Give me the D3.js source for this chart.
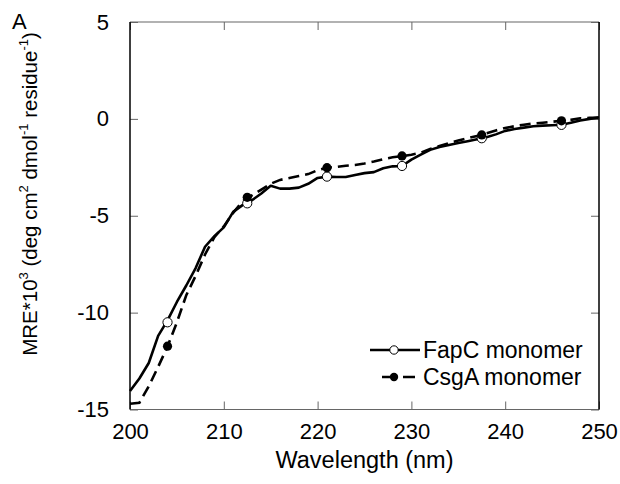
<!DOCTYPE html>
<html><head><meta charset="utf-8">
<script src="https://cdn.jsdelivr.net/npm/d3@7"></script>
<style>body{margin:0;background:#fff}svg{display:block}text{font-family:"Liberation Sans",Arial,sans-serif;fill:#000}</style>
</head><body><svg id="c" width="620" height="484"></svg>
<script>
const wavelengths = d3.range(200, 251, 1);
const fapc = [-14.05,-13.4,-12.6,-11.2,-10.4,-9.45,-8.6,-7.7,-6.6,-6.05,-5.6,-4.8,-4.45,-4.2,-3.85,-3.45,-3.6,-3.6,-3.55,-3.35,-3.05,-2.98,-3.0,-3.0,-2.9,-2.8,-2.75,-2.55,-2.45,-2.43,-2.1,-1.85,-1.6,-1.45,-1.35,-1.25,-1.15,-1.05,-0.95,-0.8,-0.62,-0.52,-0.45,-0.38,-0.35,-0.33,-0.3,-0.2,-0.08,0.0,0.08];
const csga = [-14.7,-14.65,-13.8,-12.8,-11.75,-10.5,-9.1,-8.1,-7.0,-6.1,-5.55,-4.85,-4.25,-3.95,-3.65,-3.35,-3.15,-3.05,-2.95,-2.85,-2.65,-2.52,-2.48,-2.42,-2.38,-2.3,-2.2,-2.08,-1.98,-1.92,-1.85,-1.75,-1.55,-1.4,-1.25,-1.12,-1.0,-0.88,-0.75,-0.6,-0.47,-0.38,-0.3,-0.24,-0.2,-0.15,-0.1,-0.05,0.03,0.05,0.05];
const markerWl = [204,212.5,221,229,237.5,246];
const fapcMarkers = [-10.5,-4.36,-2.98,-2.43,-1.0,-0.31];
const csgaMarkers = [-11.73,-4.05,-2.52,-1.91,-0.83,-0.1];
const xTicks = [200,210,220,230,240,250];
const yTicks = [-15,-10,-5,0,5];
const seriesNames = ["FapC monomer","CsgA monomer"];

const svg = d3.select("#c");
const L=130,R=599,T=22,B=409.5;
const x = d3.scaleLinear().domain([200,250]).range([L,R]);
const y = d3.scaleLinear().domain([-15,5]).range([B,T]);
const FS = 22;

const axCol = "#666";
svg.append("line").attr("x1",L).attr("x2",R).attr("y1",T).attr("y2",T).attr("stroke",axCol).attr("stroke-width",1.2);
svg.append("line").attr("x1",L).attr("x2",R).attr("y1",B).attr("y2",B).attr("stroke",axCol).attr("stroke-width",1.2);

const xb = svg.append("g").attr("transform",`translate(0,${B})`)
  .call(d3.axisBottom(x).tickValues(xTicks).tickSize(-8).tickPadding(14).tickFormat(d3.format("d")));
xb.select(".domain").remove();
xb.selectAll("line").attr("stroke",axCol);
xb.selectAll("text").attr("font-size",FS).attr("font-family","Liberation Sans, Arial, sans-serif").attr("fill","#000");
const xt = svg.append("g").attr("transform",`translate(0,${T})`)
  .call(d3.axisTop(x).tickValues(xTicks).tickSize(-8).tickFormat(""));
xt.select(".domain").remove();
xt.selectAll("line").attr("stroke",axCol);
const yl = svg.append("g").attr("transform",`translate(${L},0)`)
  .call(d3.axisLeft(y).tickValues(yTicks).tickSize(-8).tickPadding(21).tickFormat(d3.format("d")));
yl.select(".domain").remove();
yl.selectAll("line").attr("stroke",axCol);
yl.selectAll("text").attr("font-size",FS).attr("font-family","Liberation Sans, Arial, sans-serif").attr("fill","#000").text(d=>d<0?"-"+Math.abs(d):d);
const yr = svg.append("g").attr("transform",`translate(${R},0)`)
  .call(d3.axisRight(y).tickValues(yTicks).tickSize(-8).tickFormat(""));
yr.select(".domain").remove();
yr.selectAll("line").attr("stroke",axCol);
svg.append("line").attr("x1",L).attr("x2",L).attr("y1",T).attr("y2",B).attr("stroke","#000").attr("stroke-width",1.5);
svg.append("line").attr("x1",R).attr("x2",R).attr("y1",T).attr("y2",B).attr("stroke","#000").attr("stroke-width",1.5);

const line = d3.line().x(d=>x(d[0])).y(d=>y(d[1])).curve(d3.curveLinear);
svg.append("path").datum(wavelengths.map((w,i)=>[w,fapc[i]]))
  .attr("d",line).attr("fill","none").attr("stroke","#000").attr("stroke-width",2.6).attr("stroke-linejoin","round");
svg.append("path").datum(wavelengths.map((w,i)=>[w,csga[i]]))
  .attr("d",line).attr("fill","none").attr("stroke","#000").attr("stroke-width",2.6).attr("stroke-dasharray","11,6");

svg.append("g").selectAll("circle").data(markerWl.map((w,i)=>[w,fapcMarkers[i]])).join("circle")
  .attr("cx",d=>x(d[0])).attr("cy",d=>y(d[1])).attr("r",4.6).attr("fill","#fff").attr("stroke","#000").attr("stroke-width",1);
svg.append("g").selectAll("circle").data(markerWl.map((w,i)=>[w,csgaMarkers[i]])).join("circle")
  .attr("cx",d=>x(d[0])).attr("cy",d=>y(d[1])).attr("r",4.6).attr("fill","#000");

const lg = svg.append("g");
lg.append("line").attr("x1",370).attr("x2",420).attr("y1",350).attr("y2",350).attr("stroke","#000").attr("stroke-width",2.6);
lg.append("circle").attr("cx",394).attr("cy",350).attr("r",4.2).attr("fill","#fff").attr("stroke","#000");
lg.append("text").attr("x",423).attr("y",358).attr("font-size",23).text(seriesNames[0]);
lg.append("line").attr("x1",382).attr("x2",415).attr("y1",377).attr("y2",377).attr("stroke","#000").attr("stroke-width",2.6).attr("stroke-dasharray","8,13,12");
lg.append("circle").attr("cx",394).attr("cy",377).attr("r",4.2).attr("fill","#000");
lg.append("text").attr("x",423).attr("y",385).attr("font-size",23).text(seriesNames[1]);

svg.append("text").attr("x",(L+R)/2).attr("y",468).attr("text-anchor","middle").attr("font-size",23.5).text("Wavelength (nm)");
const yt = svg.append("text").attr("transform","translate(37,194) rotate(-90)").attr("text-anchor","middle").attr("font-size",20.5);
const sup = (t)=>{yt.append("tspan").attr("dy",-9).attr("font-size",13).text(t); };
yt.append("tspan").text("MRE*10");
sup("3");
yt.append("tspan").attr("dy",9).text(" (deg cm");
sup("2");
yt.append("tspan").attr("dy",9).text(" dmol");
sup("-1");
yt.append("tspan").attr("dy",9).text(" residue");
sup("-1");
yt.append("tspan").attr("dy",9).text(")");

svg.append("text").attr("x",12).attr("y",28.5).attr("font-size",22).text("A");
</script></body></html>
